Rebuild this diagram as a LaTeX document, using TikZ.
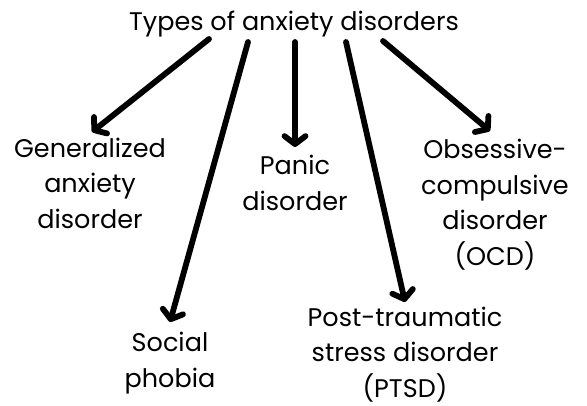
\documentclass[tikz,border=0pt]{standalone}
\usepackage{fontspec}
\setmainfont{Poppins}
\usetikzlibrary{arrows.meta}
\tikzset{
  lbl/.style={anchor=base, align=center, font=\fontsize{25.5}{35.5}\selectfont, inner sep=0pt},
  conn/.style={line width=5.8pt, line cap=round, -{Straight Barb[length=8pt,width=21pt,round]}}
}
\begin{document}
\begin{tikzpicture}[x=1pt,y=-1pt]
\fill[white] (0,0) rectangle (587,405);
\useasboundingbox (0,0) rectangle (587,405);
\node[lbl] (title) at (294,30) {Types of anxiety disorders};
\node[lbl] (gad) at (90,228) {Generalized\\anxiety\\disorder};
\node[lbl] (panic) at (295,210) {Panic\\disorder};
\node[lbl] (ocd) at (495,265) {Obsessive-\\compulsive\\disorder\\(OCD)};
\node[lbl] (ptsd) at (405,397) {Post-traumatic\\stress disorder\\(PTSD)};
\node[lbl] (social) at (170,387) {Social\\phobia};
\coordinate (s1) at (209,39);
\coordinate (s2) at (248,42);
\coordinate (s3) at (295,42);
\coordinate (s4) at (346,42);
\coordinate (s5) at (383,41);
\coordinate (e1) at (92,132);
\coordinate (e2) at (170,322);
\coordinate (e3) at (295,147);
\coordinate (e4) at (405,302);
\coordinate (e5) at (490,131);
\draw[conn] (s1) -- (e1);
\draw[conn] (s2) -- (e2);
\draw[conn] (s3) -- (e3);
\draw[conn] (s4) -- (e4);
\draw[conn] (s5) -- (e5);
\end{tikzpicture}
\end{document}
